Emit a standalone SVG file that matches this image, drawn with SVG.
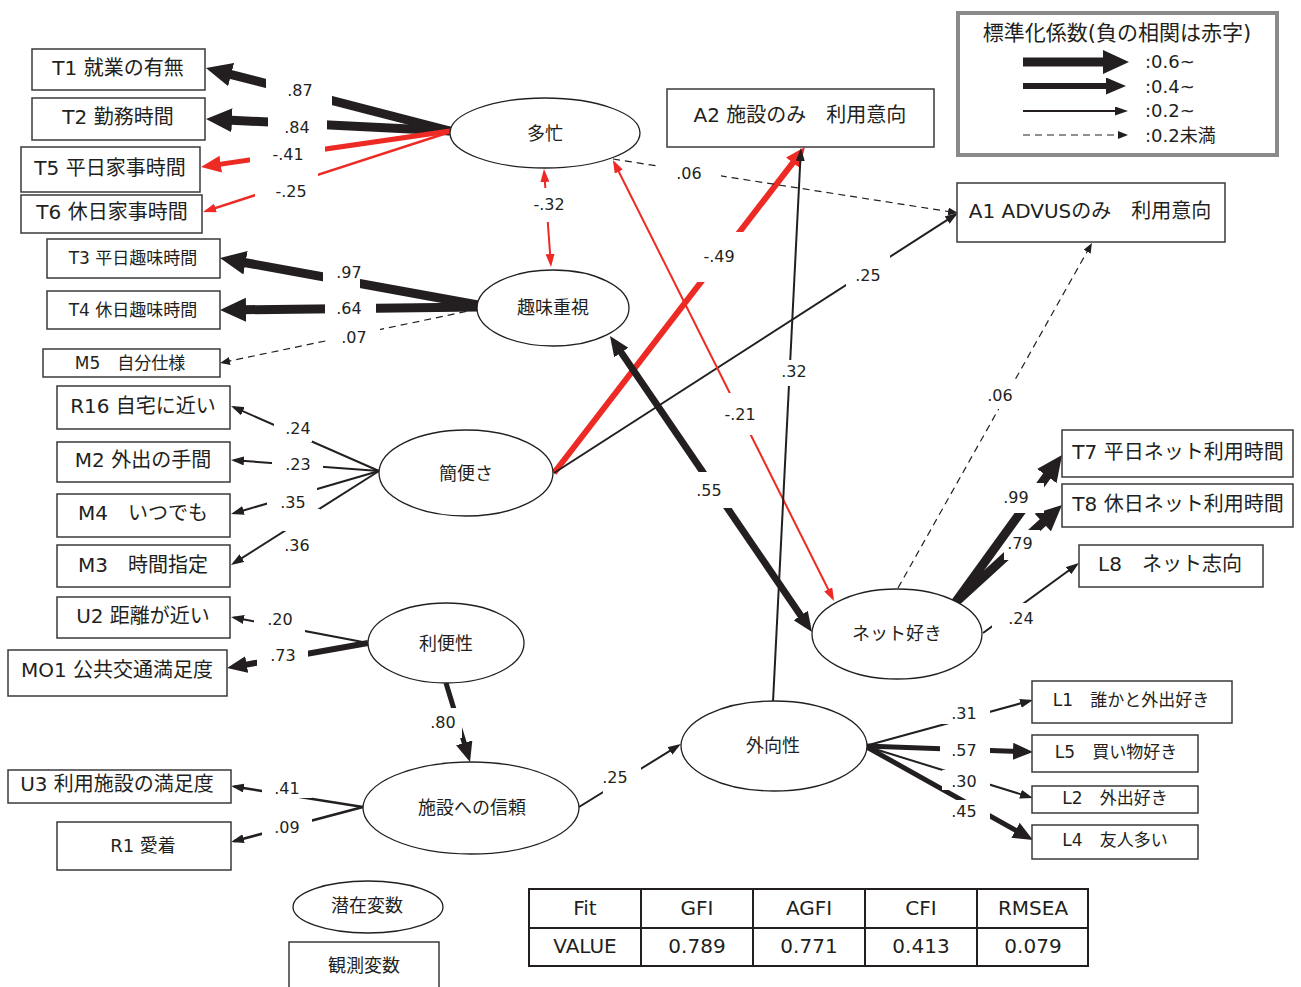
<svg xmlns="http://www.w3.org/2000/svg" width="1301" height="987" viewBox="0 0 1301 987">
<style>
.t{font-family:"DejaVu Sans","Noto Sans CJK JP",sans-serif;fill:#231f20;text-anchor:middle;dominant-baseline:central}
.b20{font-size:20px}.b17{font-size:17px}.e{font-size:18px}.lab{font-size:16px}.lg{font-size:18px;text-anchor:start}
.box{fill:#fff;stroke:#3a3a3a;stroke-width:1.5}
.ell{fill:#fff;stroke:#231f20;stroke-width:1.3}
.k{stroke:#231f20;fill:none}
.r{stroke:#ed2a24;fill:none}
.w9{stroke-width:9}.w7{stroke-width:7}.w6{stroke-width:6}.w5{stroke-width:5}.w25{stroke-width:2.5}.w2{stroke-width:2}
.d{stroke-width:1.2;stroke-dasharray:7 5}
.bg{fill:#fff}
.tb{fill:none;stroke:#231f20;stroke-width:2}
</style>
<defs>
<marker id="kT" markerUnits="userSpaceOnUse" viewBox="0 -12 26 24" markerWidth="26" markerHeight="24" refX="15" refY="0" orient="auto-start-reverse"><path d="M0,-12L26,0L0,12z" fill="#231f20"/></marker>
<marker id="kM" markerUnits="userSpaceOnUse" viewBox="0 -8.5 20 17" markerWidth="20" markerHeight="17" refX="12" refY="0" orient="auto-start-reverse"><path d="M0,-8.5L20,0L0,8.5z" fill="#231f20"/></marker>
<marker id="kS" markerUnits="userSpaceOnUse" viewBox="0 -4.5 13 9" markerWidth="13" markerHeight="9" refX="10" refY="0" orient="auto-start-reverse"><path d="M0,-4.5L13,0L0,4.5z" fill="#231f20"/></marker>
<marker id="kD" markerUnits="userSpaceOnUse" viewBox="0 -4 10 8" markerWidth="10" markerHeight="8" refX="8" refY="0" orient="auto-start-reverse"><path d="M0,-4L10,0L0,4z" fill="#231f20"/></marker>
<marker id="rM" markerUnits="userSpaceOnUse" viewBox="0 -8.5 20 17" markerWidth="20" markerHeight="17" refX="12" refY="0" orient="auto-start-reverse"><path d="M0,-8.5L20,0L0,8.5z" fill="#ed2a24"/></marker>
<marker id="rS" markerUnits="userSpaceOnUse" viewBox="0 -4.5 13 9" markerWidth="13" markerHeight="9" refX="10" refY="0" orient="auto-start-reverse"><path d="M0,-4.5L13,0L0,4.5z" fill="#ed2a24"/></marker>
</defs>
<rect width="1301" height="987" fill="#fff"/>

<g id="connectors">
<g><line class="k w9" x1="450" y1="131" x2="216.6" y2="70.8" marker-end="url(#kT)"/><rect class="bg" x="266" y="77" width="66" height="29"/><text class="t lab" x="300" y="90">.87</text></g>
<g><line class="k w9" x1="450" y1="131" x2="217" y2="119.5" marker-end="url(#kT)"/><rect class="bg" x="268" y="114" width="59" height="20"/><text class="t lab" x="297" y="127">.84</text></g>
<g><line class="r w5" x1="450" y1="131" x2="208.9" y2="165.9" marker-end="url(#rM)"/><rect class="bg" x="250" y="143" width="75" height="22"/><text class="t lab" x="288" y="154">-.41</text></g>
<g><line class="r w25" x1="450" y1="132" x2="205.9" y2="211.1" marker-end="url(#rS)"/><rect class="bg" x="255" y="168" width="63" height="32"/><text class="t lab" x="291" y="191">-.25</text></g>
<g><line class="r w2" x1="544.2" y1="172" x2="550.8" y2="264" marker-start="url(#rS)" marker-end="url(#rS)"/><rect class="bg" x="530" y="188" width="40" height="34"/><text class="t lab" x="549" y="204">-.32</text></g>
<g><line class="k w9" x1="478" y1="305" x2="230.8" y2="260" marker-end="url(#kT)"/><rect class="bg" x="323" y="259" width="37" height="30"/><text class="t lab" x="349" y="272">.97</text></g>
<g><line class="k w9" x1="478" y1="307" x2="231" y2="309.9" marker-end="url(#kT)"/><rect class="bg" x="325" y="298" width="51" height="20"/><text class="t lab" x="349" y="308">.64</text></g>
<g><line class="k d" x1="478" y1="309" x2="222" y2="362.6" marker-end="url(#kD)"/><rect class="bg" x="330" y="326" width="50" height="22"/><text class="t lab" x="354" y="337">.07</text></g>
<g><line class="k w2" x1="379" y1="471" x2="233.7" y2="407.2" marker-end="url(#kS)"/><rect class="bg" x="274" y="416" width="38" height="26"/><text class="t lab" x="298" y="428">.24</text></g>
<g><line class="k w2" x1="379" y1="471" x2="234" y2="460.2" marker-end="url(#kS)"/><rect class="bg" x="272" y="454" width="51" height="20"/><text class="t lab" x="298" y="464">.23</text></g>
<g><line class="k w2" x1="379" y1="471" x2="233.9" y2="513.2" marker-end="url(#kS)"/><rect class="bg" x="267" y="488" width="50" height="20"/><text class="t lab" x="293" y="502">.35</text></g>
<g><line class="k w2" x1="379" y1="471" x2="233.5" y2="563.4" marker-end="url(#kS)"/><rect class="bg" x="282" y="509" width="38" height="22"/><text class="t lab" x="297" y="545">.36</text></g>
<g><line class="k w2" x1="368" y1="643" x2="234" y2="617.6" marker-end="url(#kS)"/><rect class="bg" x="254" y="607" width="51" height="27"/><text class="t lab" x="280" y="619">.20</text></g>
<g><line class="k w6" x1="368" y1="643" x2="234.9" y2="666.6" marker-end="url(#kM)"/><rect class="bg" x="257" y="643" width="51" height="24"/><text class="t lab" x="283" y="655">.73</text></g>
<g><line class="k w5" x1="446" y1="683" x2="467.7" y2="754.3" marker-end="url(#kM)"/><rect class="bg" x="428" y="708" width="34" height="30"/><text class="t lab" x="443" y="722">.80</text></g>
<g><line class="k w25" x1="363" y1="807" x2="234" y2="786.5" marker-end="url(#kS)"/><rect class="bg" x="262" y="776" width="50" height="22"/><text class="t lab" x="287" y="788">.41</text></g>
<g><line class="k w25" x1="363" y1="807" x2="233.9" y2="841.2" marker-end="url(#kS)"/><rect class="bg" x="262" y="816" width="50" height="22"/><text class="t lab" x="287" y="827">.09</text></g>
<g><line class="k w2" x1="579" y1="807" x2="678.4" y2="745.6" marker-end="url(#kS)"/><rect class="bg" x="603" y="766" width="38" height="30"/><text class="t lab" x="615" y="777">.25</text></g>
<g><line class="r w6" x1="554" y1="473" x2="800.1" y2="153.3" marker-end="url(#rM)"/><rect class="bg" x="695" y="232" width="48" height="50"/><text class="t lab" x="719" y="256">-.49</text></g>
<g><line class="k w2" x1="554" y1="473" x2="955.5" y2="214.6" marker-end="url(#kS)"/><rect class="bg" x="846" y="255" width="44" height="32"/><text class="t lab" x="868" y="275">.25</text></g>
<g><line class="k d" x1="613" y1="159" x2="956" y2="212.7" marker-end="url(#kD)"/><rect class="bg" x="657" y="163" width="64" height="20"/><text class="t lab" x="689" y="173">.06</text></g>
<g><line class="r w2" x1="614.3" y1="162.7" x2="832.7" y2="598.3" marker-start="url(#rS)" marker-end="url(#rS)"/><rect class="bg" x="720" y="393" width="40" height="42"/><text class="t lab" x="740" y="414">-.21</text></g>
<g><line class="k w7" x1="614.5" y1="342.6" x2="807.5" y2="625.4" marker-start="url(#kM)" marker-end="url(#kM)"/><rect class="bg" x="688" y="472" width="46" height="36"/><text class="t lab" x="709" y="490">.55</text></g>
<g><line class="k w2" x1="773" y1="702" x2="800.8" y2="151" marker-end="url(#kS)"/><rect class="bg" x="778" y="360" width="34" height="26"/><text class="t lab" x="794" y="371">.32</text></g>
<g><line class="k d" x1="898" y1="588" x2="1091" y2="244.7" marker-end="url(#kD)"/><rect class="bg" x="985" y="381" width="34" height="28"/><text class="t lab" x="1000" y="395">.06</text></g>
<g><line class="k w9" x1="955" y1="603" x2="1053.9" y2="512.4" marker-end="url(#kT)"/><rect class="bg" x="1004" y="530" width="36" height="30"/><text class="t lab" x="1020" y="543">.79</text></g>
<g><line class="k w9" x1="955" y1="603" x2="1055.6" y2="463.9" marker-end="url(#kT)"/><rect class="bg" x="1000" y="483" width="44" height="30"/><text class="t lab" x="1016" y="497">.99</text></g>
<g><line class="k w2" x1="983" y1="633" x2="1076.6" y2="564.8" marker-end="url(#kS)"/><rect class="bg" x="992" y="603" width="40" height="26"/><text class="t lab" x="1021" y="618">.24</text></g>
<g><line class="k w2" x1="865" y1="746" x2="1030.1" y2="700.8" marker-end="url(#kS)"/><rect class="bg" x="942" y="702" width="48" height="22"/><text class="t lab" x="964" y="713">.31</text></g>
<g><line class="k w5" x1="865" y1="746" x2="1025" y2="751.7" marker-end="url(#kM)"/><rect class="bg" x="940" y="739" width="50" height="22"/><text class="t lab" x="964" y="750">.57</text></g>
<g><line class="k w5" x1="865" y1="746" x2="1026" y2="836.1" marker-end="url(#kM)"/><rect class="bg" x="944" y="800" width="46" height="24"/><text class="t lab" x="964" y="811">.45</text></g>
<g><line class="k w2" x1="865" y1="746" x2="1030.1" y2="797.1" marker-end="url(#kS)"/><rect class="bg" x="942" y="770" width="48" height="20"/><text class="t lab" x="964" y="781">.30</text></g>
</g>

<g id="n-tabou"><ellipse class="ell" cx="545" cy="133" rx="95" ry="35"/><text class="t e" x="545" y="133">多忙</text></g>
<g id="n-shumi"><ellipse class="ell" cx="553" cy="308" rx="76" ry="38"/><text class="t e" x="553" y="307">趣味重視</text></g>
<g id="n-kanben"><ellipse class="ell" cx="466" cy="473" rx="87" ry="43"/><text class="t e" x="466" y="473">簡便さ</text></g>
<g id="n-ribensei"><ellipse class="ell" cx="446" cy="643" rx="78" ry="40"/><text class="t e" x="446" y="643">利便性</text></g>
<g id="n-shinrai"><ellipse class="ell" cx="471" cy="808" rx="108" ry="46"/><text class="t e" x="472" y="807">施設への信頼</text></g>
<g id="n-gaikou"><ellipse class="ell" cx="774" cy="746" rx="93" ry="45"/><text class="t e" x="773" y="745">外向性</text></g>
<g id="n-net"><ellipse class="ell" cx="897" cy="634" rx="85" ry="45"/><text class="t e" x="897" y="633">ネット好き</text></g>
<g id="n-senzai"><ellipse class="ell" cx="368" cy="907" rx="75" ry="26"/><text class="t e" x="367" y="905">潜在変数</text></g>

<g id="T1"><rect class="box" x="32" y="49" width="173" height="41"/><text class="t b20" x="118" y="68">T1 就業の有無</text></g>
<g id="T2"><rect class="box" x="32" y="98" width="173" height="42"/><text class="t b20" x="118" y="117">T2 勤務時間</text></g>
<g id="T5"><rect class="box" x="21" y="147" width="179" height="45"/><text class="t b20" x="110" y="168">T5 平日家事時間</text></g>
<g id="T6"><rect class="box" x="21" y="195" width="181" height="38"/><text class="t b20" x="112" y="212">T6 休日家事時間</text></g>
<g id="T3"><rect class="box" x="47" y="239" width="173" height="39"/><text class="t b17" x="133" y="258">T3 平日趣味時間</text></g>
<g id="T4"><rect class="box" x="47" y="291" width="173" height="38"/><text class="t b17" x="133" y="310">T4 休日趣味時間</text></g>
<g id="M5"><rect class="box" x="43" y="349" width="177" height="28"/><text class="t b17" x="130" y="363">M5　自分仕様</text></g>
<g id="R16"><rect class="box" x="57" y="386" width="173" height="43"/><text class="t b20" x="143" y="406">R16 自宅に近い</text></g>
<g id="M2"><rect class="box" x="57" y="442" width="173" height="40"/><text class="t b20" x="143" y="460">M2 外出の手間</text></g>
<g id="M4"><rect class="box" x="57" y="494" width="173" height="43"/><text class="t b20" x="143" y="513">M4　いつでも</text></g>
<g id="M3"><rect class="box" x="57" y="545" width="173" height="42"/><text class="t b20" x="143" y="565">M3　時間指定</text></g>
<g id="U2"><rect class="box" x="57" y="597" width="173" height="41"/><text class="t b20" x="143" y="616">U2 距離が近い</text></g>
<g id="MO1"><rect class="box" x="8" y="650" width="219" height="46"/><text class="t b20" x="117" y="670">MO1 公共交通満足度</text></g>
<g id="U3"><rect class="box" x="8" y="770" width="223" height="33"/><text class="t b20" x="117" y="784">U3 利用施設の満足度</text></g>
<g id="R1"><rect class="box" x="57" y="822" width="174" height="48"/><text class="t e" x="143" y="845">R1 愛着</text></g>
<g id="obs"><rect class="box" x="289" y="942" width="150" height="55"/><text class="t e" x="364" y="965">観測変数</text></g>
<g id="A2"><rect class="box" x="667" y="89" width="267" height="58"/><text class="t b20" x="800" y="115">A2 施設のみ　利用意向</text></g>
<g id="A1"><rect class="box" x="957" y="183" width="268" height="59"/><text class="t b20" x="1090" y="211">A1 ADVUSのみ　利用意向</text></g>
<g id="T7"><rect class="box" x="1062" y="430" width="231" height="47"/><text class="t b20" x="1178" y="452">T7 平日ネット利用時間</text></g>
<g id="T8"><rect class="box" x="1062" y="484" width="231" height="43"/><text class="t b20" x="1178" y="504">T8 休日ネット利用時間</text></g>
<g id="L8"><rect class="box" x="1079" y="545" width="184" height="42"/><text class="t b20" x="1170" y="564">L8　ネット志向</text></g>
<g id="L1"><rect class="box" x="1032" y="681" width="200" height="42"/><text class="t b17" x="1131" y="700">L1　誰かと外出好き</text></g>
<g id="L5"><rect class="box" x="1032" y="735" width="166" height="37"/><text class="t b17" x="1116" y="752">L5　買い物好き</text></g>
<g id="L2"><rect class="box" x="1032" y="786" width="166" height="27"/><text class="t b17" x="1115" y="798">L2　外出好き</text></g>
<g id="L4"><rect class="box" x="1032" y="825" width="166" height="34"/><text class="t b17" x="1115" y="840">L4　友人多い</text></g>

<g id="legend">
<rect x="958" y="13" width="319" height="142" fill="#fff" stroke="#8a8a8a" stroke-width="4"/>
<text class="t" style="font-size:21px" x="1117" y="33">標準化係数(負の相関は赤字)</text>
<line class="k w9" x1="1023" y1="62" x2="1118" y2="62" marker-end="url(#kT)"/>
<line class="k w6" x1="1023" y1="86" x2="1118" y2="86" marker-end="url(#kM)"/>
<line class="k w2" x1="1023" y1="111" x2="1125" y2="111" marker-end="url(#kS)"/>
<line class="k d" x1="1023" y1="135" x2="1126" y2="135" marker-end="url(#kD)"/>
<text class="t lg" x="1145" y="61">:0.6~</text>
<text class="t lg" x="1145" y="86">:0.4~</text>
<text class="t lg" x="1145" y="110">:0.2~</text>
<text class="t lg" x="1145" y="135">:0.2未満</text>
</g>

<g id="fit-table">
<rect class="tb" x="529" y="889" width="559" height="77"/>
<line class="tb" x1="529" y1="928" x2="1088" y2="928"/>
<line class="tb" x1="641" y1="889" x2="641" y2="966"/>
<line class="tb" x1="753" y1="889" x2="753" y2="966"/>
<line class="tb" x1="865" y1="889" x2="865" y2="966"/>
<line class="tb" x1="977" y1="889" x2="977" y2="966"/>
<text class="t b20" x="585" y="908">Fit</text>
<text class="t b20" x="697" y="908">GFI</text>
<text class="t b20" x="809" y="908">AGFI</text>
<text class="t b20" x="921" y="908">CFI</text>
<text class="t b20" x="1033" y="908">RMSEA</text>
<text class="t b20" x="585" y="946">VALUE</text>
<text class="t b20" x="697" y="946">0.789</text>
<text class="t b20" x="809" y="946">0.771</text>
<text class="t b20" x="921" y="946">0.413</text>
<text class="t b20" x="1033" y="946">0.079</text>
</g>
</svg>
